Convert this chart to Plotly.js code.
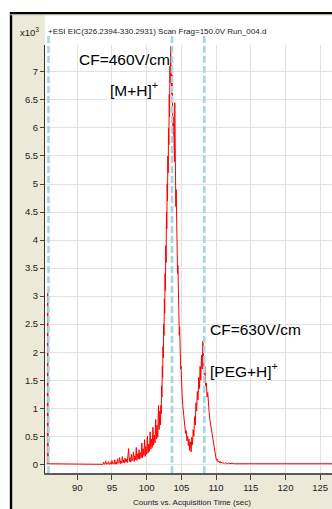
<!DOCTYPE html>
<html><head><meta charset="utf-8">
<script src="https://cdn.plot.ly/plotly-3.0.1.min.js"></script>
<style>html,body{margin:0;padding:0;background:#fff;}#chart{width:332px;height:509px;}</style>
</head><body><div id="chart"></div>
<script>
// Acquisition time (sec) and counts (x10^3)
const timeSec = [
  85.68, 85.75, 85.82, 93.6,
  93.7, 93.8, 93.9, 94.0, 94.1, 94.2, 94.3, 94.4, 94.5, 94.6, 94.7, 94.8, 94.9,
  95.0, 95.1, 95.2, 95.3, 95.4, 95.5, 95.6, 95.7, 95.8, 95.9,
  96.0, 96.1, 96.2, 96.3, 96.4, 96.5, 96.6, 96.7, 96.8, 96.9,
  97.0, 97.1, 97.2, 97.3, 97.4, 97.5, 97.6, 97.7, 97.8, 97.9,
  98.0, 98.1, 98.2, 98.3, 98.4, 98.5, 98.6, 98.7, 98.8, 98.9,
  99.0, 99.1, 99.2, 99.3, 99.4, 99.5, 99.6, 99.7, 99.8, 99.9,
  100.0, 100.1, 100.2, 100.3, 100.4, 100.5, 100.6, 100.7, 100.8, 100.9,
  101.0, 101.1, 101.2, 101.3, 101.4, 101.5, 101.6, 101.7, 101.8, 101.9,
  102.0, 102.05, 102.1, 102.15, 102.2, 102.25, 102.3, 102.35, 102.4, 102.45,
  102.5, 102.55, 102.6, 102.65, 102.7, 102.75, 102.8, 102.85, 102.9, 102.95,
  103.0, 103.05, 103.1, 103.15, 103.2, 103.25, 103.3, 103.35, 103.4, 103.45,
  103.5, 103.55, 103.6, 103.65, 103.7, 103.75, 103.8, 103.85, 103.9, 103.95,
  104.0, 104.05, 104.1, 104.15, 104.2, 104.25, 104.3, 104.35, 104.4, 104.45,
  104.5, 104.55, 104.6, 104.65, 104.7, 104.75, 104.8, 104.85, 104.9, 104.95,
  105.0, 105.1, 105.2, 105.3, 105.4, 105.5, 105.6, 105.7, 105.8, 105.9,
  106.0, 106.1, 106.2, 106.3, 106.4, 106.5, 106.6, 106.7, 106.8, 106.9,
  107.0, 107.1, 107.2, 107.3, 107.4, 107.5, 107.6, 107.7, 107.8, 107.9,
  108.0, 108.1, 108.2, 108.3, 108.4, 108.5, 108.6, 108.7, 108.8, 108.9,
  109.0, 109.1, 109.2, 109.3, 109.4, 109.5, 109.6, 109.7, 109.8, 109.9,
  110.0, 110.1, 110.2, 110.3, 110.4, 110.5, 110.6, 110.7, 110.8, 110.9,
  111.0, 111.2, 111.4, 111.6, 111.8, 112.0, 112.3, 112.6, 126.9
];
const countsK = [
  0.00, 3.05, 0.01, 0.01,
  0.00, 0.04, 0.00, 0.01, 0.06, 0.00, 0.02, 0.00, 0.05, 0.01, 0.00, 0.03, 0.00,
  0.07, 0.01, 0.02, 0.00, 0.08, 0.01, 0.04, 0.00, 0.10, 0.02,
  0.03, 0.12, 0.01, 0.06, 0.02, 0.14, 0.03, 0.08, 0.02, 0.11,
  0.04, 0.09, 0.03, 0.16, 0.28, 0.05, 0.12, 0.04, 0.18, 0.06,
  0.10, 0.22, 0.05, 0.15, 0.08, 0.30, 0.07, 0.19, 0.10, 0.26,
  0.09, 0.21, 0.12, 0.38, 0.11, 0.28, 0.16, 0.44, 0.14, 0.32,
  0.18, 0.50, 0.20, 0.36, 0.23, 0.58, 0.27, 0.45, 0.30, 0.66,
  0.34, 0.52, 0.38, 0.80, 0.45, 0.70, 0.48, 1.05, 0.62, 0.95,
  0.70, 1.05, 0.90, 1.40, 1.20, 1.75, 1.55, 2.10, 1.90, 2.50,
  2.30, 2.95, 2.70, 3.40, 3.10, 3.90, 3.60, 4.50, 4.20, 5.00,
  4.70, 5.50, 5.20, 6.00, 5.70, 6.60, 6.20, 7.10, 6.80, 7.45,
  7.00, 7.30, 6.60, 6.95, 6.30, 6.55, 5.90, 6.20, 5.70, 6.10,
  5.40, 6.45, 5.60, 5.00, 4.60, 4.90, 4.20, 3.80, 3.95, 3.40,
  3.55, 3.10, 2.75, 2.90, 2.30, 2.45, 1.95, 2.05, 1.70, 1.75,
  1.45, 1.25, 1.05, 0.95, 0.78, 0.68, 0.55, 0.60, 0.42, 0.50,
  0.33, 0.45, 0.25, 0.40, 0.22, 0.48, 0.35, 0.62, 0.50, 0.85,
  0.70, 1.10, 0.95, 1.30, 1.15, 1.55, 1.35, 1.75, 1.50, 1.95,
  1.70, 2.20, 1.85, 1.60, 1.75, 1.40, 1.45, 1.20, 1.28, 1.00,
  0.92, 0.80, 0.72, 0.60, 0.55, 0.42, 0.38, 0.26, 0.22, 0.14,
  0.10, 0.07, 0.09, 0.04, 0.06, 0.03, 0.05, 0.02, 0.04, 0.02,
  0.03, 0.01, 0.03, 0.01, 0.02, 0.01, 0.02, 0.01, 0.01
];
const xTickVals = [90, 95, 100, 105, 110, 115, 120, 125];
const yTickVals = [0, 0.5, 1, 1.5, 2, 2.5, 3, 3.5, 4, 4.5, 5, 5.5, 6, 6.5, 7];
const yTickText = ['0', '0.5', '1', '1.5', '2', '2.5', '3', '3.5', '4', '4.5', '5', '5.5', '6', '6.5', '7'];
const markerTimes = [85.85, 103.65, 108.3];
const headerText = '+ESI EIC(326.2394-330.2931) Scan Frag=150.0V Run_004.d';
const scaleText = 'x10<sup>3</sup>';
const xTitleText = 'Counts vs. Acquisition Time (sec)';
const peakLabels = ['CF=460V/cm', '[M+H]<sup>+</sup>', 'CF=630V/cm', '[PEG+H]<sup>+</sup>'];

// pixel -> paper helpers (plot area: x 45..332, y 45..473)
const PL = 45, PR = 332, PT = 45, PB = 473;
const px = v => (v - PL) / (PR - PL);
const py = v => (PB - v) / (PB - PT);

const fam = 'Liberation Sans Narrow, Arial Narrow, Liberation Sans, Arial';
const tickFont = {family: fam, size: 9.5, color: '#222'};
const headFont = {family: fam, size: 8, color: '#222'};
const bigFont = {family: 'Liberation Sans, Arial, sans-serif', size: 15.5, color: '#000'};

const shapes = [
  {type: 'rect', xref: 'paper', yref: 'paper', x0: px(-5), x1: px(10.5), y0: py(520), y1: py(-5), fillcolor: '#ffffff', line: {width: 0}, layer: 'below'},
  {type: 'rect', xref: 'paper', yref: 'paper', x0: px(-5), x1: px(340), y0: py(13), y1: py(-5), fillcolor: '#ffffff', line: {width: 0}, layer: 'below'},
  {type: 'rect', xref: 'paper', yref: 'paper', x0: px(45), x1: px(340), y0: py(46), y1: py(15), fillcolor: '#ffffff', line: {width: 0}, layer: 'below'},
  {type: 'line', xref: 'paper', yref: 'paper', x0: px(10), x1: px(340), y0: py(13.2), y1: py(13.2), line: {color: '#000', width: 2.4}},
  {type: 'line', xref: 'paper', yref: 'paper', x0: px(11), x1: px(11), y0: py(520), y1: py(12), line: {color: '#000', width: 2.4}},
  {type: 'line', xref: 'paper', yref: 'paper', x0: px(10), x1: px(340), y0: py(14.8), y1: py(14.8), line: {color: '#c8c4b0', width: 1}}
];
markerTimes.forEach(t => shapes.push({
  type: 'line', xref: 'x', yref: 'paper', x0: t, x1: t, y0: 0, y1: py(33),
  line: {color: '#a6d6de', width: 2.6, dash: '7px,3px'}, layer: 'above'
}));

const annotations = [
  {text: scaleText, xref: 'paper', yref: 'paper', x: px(41), y: py(32), xanchor: 'right', yanchor: 'middle', showarrow: false, font: tickFont},
  {text: headerText, xref: 'paper', yref: 'paper', x: px(46), y: py(31), xanchor: 'left', yanchor: 'middle', showarrow: false, font: headFont},
  {text: xTitleText, xref: 'paper', yref: 'paper', x: px(192), y: py(502), xanchor: 'center', yanchor: 'middle', showarrow: false, font: headFont},
  {text: peakLabels[0], xref: 'paper', yref: 'paper', x: px(77), y: py(60), xanchor: 'left', yanchor: 'middle', showarrow: false, font: bigFont},
  {text: peakLabels[1], xref: 'paper', yref: 'paper', x: px(108), y: py(89), xanchor: 'left', yanchor: 'middle', showarrow: false, font: bigFont},
  {text: peakLabels[2], xref: 'paper', yref: 'paper', x: px(208), y: py(329), xanchor: 'left', yanchor: 'middle', showarrow: false, font: bigFont},
  {text: peakLabels[3], xref: 'paper', yref: 'paper', x: px(208), y: py(370), xanchor: 'left', yanchor: 'middle', showarrow: false, font: bigFont}
];

const trace = {
  x: timeSec, y: countsK, type: 'scatter', mode: 'lines',
  line: {color: '#ff0000', width: 1}, hoverinfo: 'skip'
};

const layout = {
  width: 332, height: 509,
  margin: {l: PL, r: 0, t: PT, b: 509 - PB, pad: 0},
  paper_bgcolor: '#ece9d8', plot_bgcolor: '#ffffff',
  showlegend: false,
  xaxis: {
    range: [85.35, 126.7], tickvals: xTickVals, ticktext: xTickVals.map(String),
    showgrid: true, gridcolor: '#e2e2e2', gridwidth: 1, zeroline: false,
    showline: true, linecolor: '#5a5a5a', linewidth: 2,
    ticks: 'outside', ticklen: 5, tickcolor: '#444', tickwidth: 1,
    tickfont: tickFont, fixedrange: true
  },
  yaxis: {
    range: [-0.155, 7.48], tickvals: yTickVals, ticktext: yTickText,
    showgrid: true, gridcolor: '#e2e2e2', gridwidth: 1, zeroline: false,
    showline: true, linecolor: '#333', linewidth: 1,
    ticks: 'outside', ticklen: 4, tickcolor: '#444', tickwidth: 1,
    tickfont: tickFont, fixedrange: true
  },
  shapes: shapes,
  annotations: annotations
};

Plotly.newPlot('chart', [trace], layout, {staticPlot: true, displayModeBar: false});
</script>
</body></html>
